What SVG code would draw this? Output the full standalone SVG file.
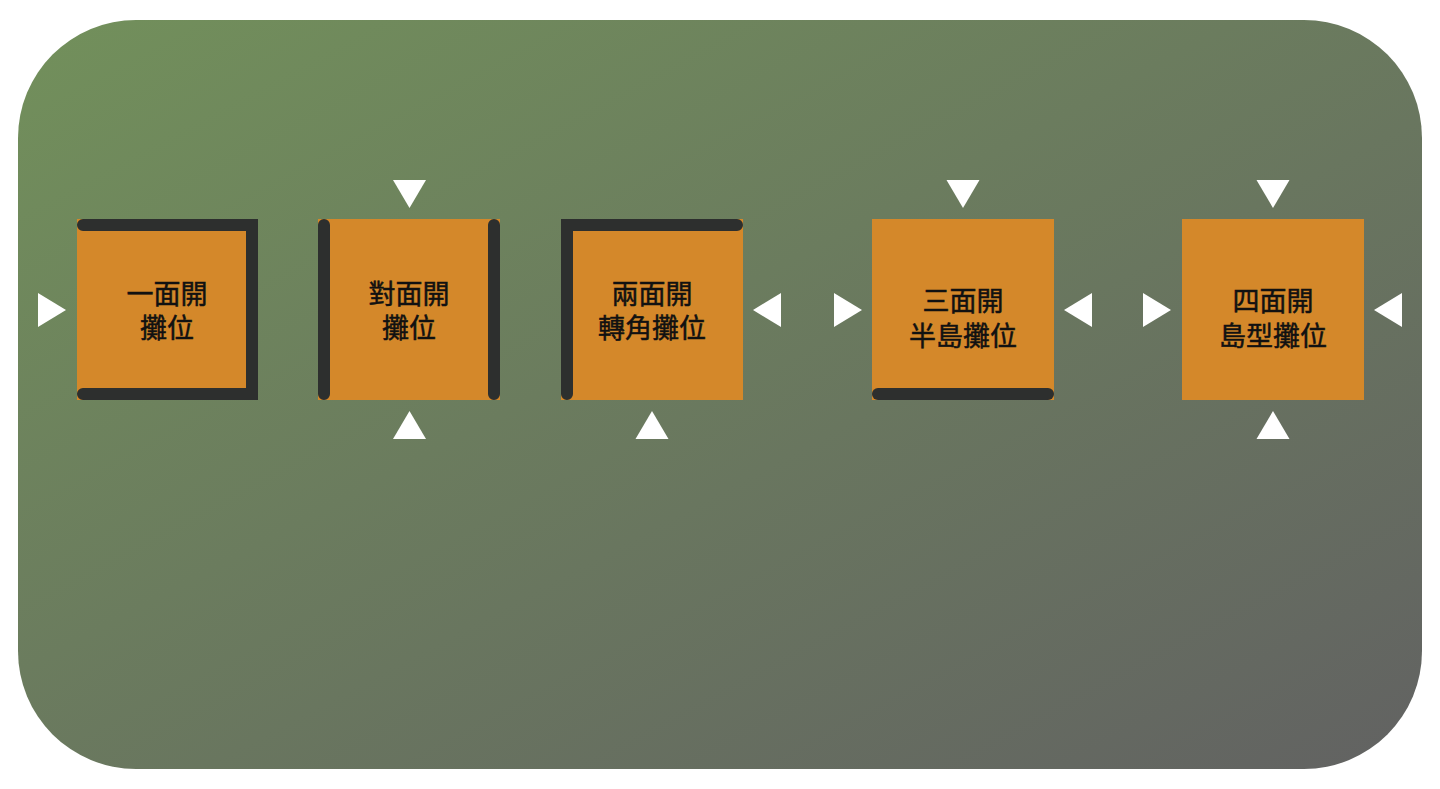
<svg xmlns="http://www.w3.org/2000/svg" width="1440" height="789" viewBox="0 0 1440 789">
<defs>
<linearGradient id="bg" x1="0" y1="0" x2="1" y2="1">
<stop offset="0" stop-color="#72905b"/>
<stop offset="1" stop-color="#626262"/>
</linearGradient>
<style>
.box{fill:#d4882a;}
.wall{fill:none;stroke:#2d2f2e;stroke-width:12;stroke-linecap:round;stroke-linejoin:miter;}
.tri{fill:#ffffff;}
.lbl{font-family:"Noto Sans CJK TC","Noto Sans CJK SC",sans-serif;font-size:27px;font-weight:normal;fill:#111111;text-anchor:middle;dominant-baseline:central;stroke:#111111;stroke-width:0.5;}
</style>
</defs>
<rect width="1440" height="789" fill="#ffffff"/>
<rect x="18" y="20" width="1404" height="749" rx="118" ry="118" fill="url(#bg)"/>

<g id="node-1">
<rect class="box" x="77" y="219" width="181" height="181"/>
<path class="wall" d="M83,225 H252 V394 H83"/>
<text class="lbl" x="167" y="292">一面開</text>
<text class="lbl" x="167" y="326">攤位</text>
</g>

<g id="node-2">
<rect class="box" x="318" y="219" width="182" height="181"/>
<path class="wall" d="M324,225 V394 M494,225 V394"/>
<text class="lbl" x="409" y="292">對面開</text>
<text class="lbl" x="409" y="326">攤位</text>
</g>

<g id="node-3">
<rect class="box" x="561" y="219" width="182" height="181"/>
<path class="wall" d="M737,225 H567 V394"/>
<text class="lbl" x="652" y="292">兩面開</text>
<text class="lbl" x="652" y="326">轉角攤位</text>
</g>

<g id="node-4">
<rect class="box" x="872" y="219" width="182" height="181"/>
<path class="wall" d="M878,394 H1048"/>
<text class="lbl" x="963" y="299">三面開</text>
<text class="lbl" x="963" y="334">半島攤位</text>
</g>

<g id="node-5">
<rect class="box" x="1182" y="219" width="182" height="181"/>
<text class="lbl" x="1273" y="299">四面開</text>
<text class="lbl" x="1273" y="334">島型攤位</text>
</g>

<g id="connectors">
<polygon class="tri" points="38,293 66,310 38,327"/>
<polygon class="tri" points="393,180 426,180 409.5,208"/>
<polygon class="tri" points="393,439 426,439 409.5,411"/>
<polygon class="tri" points="781,293 753,310 781,327"/>
<polygon class="tri" points="635.5,439 668.5,439 652,411"/>
<polygon class="tri" points="946.5,180 979.5,180 963,208"/>
<polygon class="tri" points="834,293 862,310 834,327"/>
<polygon class="tri" points="1092,293 1064,310 1092,327"/>
<polygon class="tri" points="1256.5,180 1289.5,180 1273,208"/>
<polygon class="tri" points="1256.5,439 1289.5,439 1273,411"/>
<polygon class="tri" points="1143,293 1171,310 1143,327"/>
<polygon class="tri" points="1402,293 1374,310 1402,327"/>
</g>
</svg>
